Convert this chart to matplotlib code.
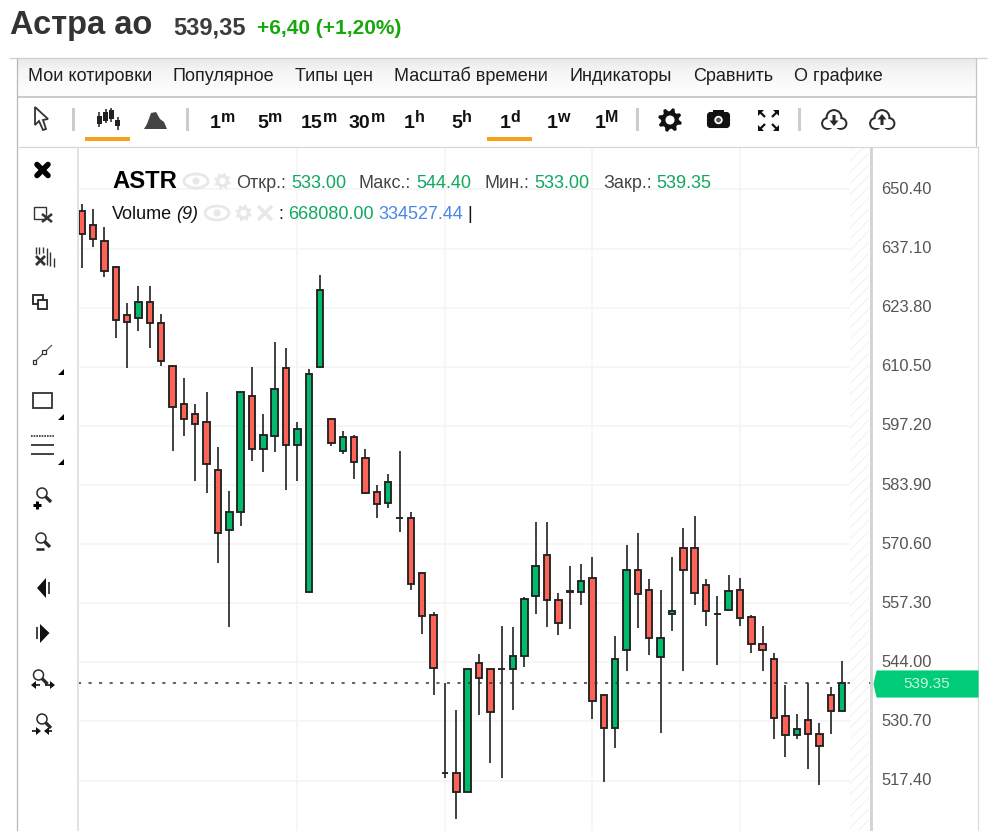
import numpy as np
import matplotlib
matplotlib.use('Agg')
import matplotlib.pyplot as plt
from matplotlib.patches import Rectangle, Polygon, Circle, Ellipse, FancyBboxPatch
from matplotlib.transforms import ScaledTranslation

plt.rcParams['font.family'] = ['Liberation Sans', 'DejaVu Sans']
plt.rcParams['hatch.linewidth'] = 0.9

# daily candles
opens = [645.59, 642.31, 638.84, 632.86, 622.06, 621.38, 625.05, 620.32, 610.58, 602.09,
         599.78, 598.04, 587.24, 573.74, 577.79, 603.83, 591.97, 594.96, 610.20, 592.93,
         559.85, 610.49, 598.72, 591.58, 594.67, 589.94, 582.22, 579.81, 576.44, 576.44,
         563.99, 554.54, 519.12, 519.12, 514.71, 543.74, 542.39, 542.46, 542.39, 545.38,
         558.89, 568.05, 557.92, 559.75, 559.85, 563.01, 536.67, 529.18, 546.73, 564.67,
         560.30, 545.09, 554.84, 569.76, 569.76, 561.29, 554.90, 555.81, 560.30, 554.16,
         548.08, 544.71, 531.95, 527.54, 530.91, 527.90, 536.61, 533.00]
closes = [640.28, 639.16, 632.09, 621.00, 620.61, 625.05, 620.32, 611.84, 601.35, 598.72,
          597.66, 588.59, 573.13, 577.79, 604.79, 591.97, 595.05, 605.47, 592.93, 596.40,
          608.85, 627.75, 593.25, 594.67, 588.97, 582.13, 579.52, 584.61, 576.44, 561.59,
          554.45, 542.68, 519.12, 514.71, 542.46, 540.36, 532.85, 542.46, 545.45, 558.28,
          565.70, 557.92, 552.81, 559.95, 562.26, 535.26, 529.18, 544.77, 564.67, 559.27,
          549.43, 549.50, 555.58, 564.67, 559.56, 555.58, 554.90, 559.94, 553.87, 548.08,
          546.73, 531.50, 527.54, 528.89, 527.90, 525.13, 532.94, 539.35]
highs = [647.10, 645.98, 641.93, 633.15, 624.82, 628.72, 628.72, 622.35, 610.65, 607.88,
         602.09, 604.86, 592.35, 582.52, 604.79, 610.49, 599.78, 615.98, 614.63, 598.04,
         609.90, 631.06, 598.72, 596.02, 595.12, 591.97, 583.87, 586.27, 591.58, 577.72,
         563.99, 555.29, 539.38, 533.23, 542.46, 545.77, 542.46, 552.13, 551.84, 558.73,
         575.47, 575.47, 559.63, 565.70, 566.02, 567.73, 536.67, 549.88, 570.43, 573.13,
         562.64, 560.30, 567.73, 574.12, 576.89, 562.64, 558.89, 563.68, 563.01, 554.61,
         552.13, 545.99, 538.86, 532.33, 539.31, 530.24, 538.34, 544.40]
lows = [632.70, 637.43, 630.67, 616.95, 610.20, 618.52, 614.76, 610.71, 591.58, 594.89,
        584.83, 582.13, 566.25, 551.84, 574.64, 589.20, 586.79, 591.22, 582.74, 584.77,
        559.85, 610.20, 592.64, 590.84, 585.15, 581.77, 576.37, 578.76, 573.29, 560.24,
        550.33, 536.61, 518.00, 508.64, 514.71, 532.11, 521.37, 518.00, 533.23, 542.98,
        554.84, 551.98, 550.11, 551.39, 556.86, 531.14, 517.03, 524.75, 541.94, 551.68,
        545.61, 528.12, 551.01, 541.94, 556.79, 552.07, 543.36, 555.81, 552.07, 545.99,
        541.94, 526.77, 522.72, 526.77, 520.02, 516.29, 527.76, 533.00]

price_ticks = [650.40, 637.10, 623.80, 610.50, 597.20, 583.90, 570.60, 557.30, 544.00, 530.70, 517.40]
time_ticks = [19, 32, 45, 58]
last_price = closes[-1]

W, H = 998, 831
RED = '#fd6357'
GREEN = '#00bb6c'
INK = '#2b2b2b'

fig = plt.figure(figsize=(W / 100, H / 100), dpi=100)

# main price chart
ax = fig.add_axes([78 / W, 0, (871 - 78) / W, (831 - 147) / H])
ax.set_xlim(-0.33, 69.54)
ax.set_ylim(506.04, 659.96)
ax.set_xticks(time_ticks)
ax.set_yticks(price_ticks)
ax.set_yticklabels(['%.2f' % p for p in price_ticks], fontsize=11.9, color='#555555')
ax.yaxis.tick_right()
ax.tick_params(axis='y', length=0, pad=7.4)
ax.tick_params(axis='x', length=0, labelbottom=False)
ax.grid(True, color='#f5f5f5', lw=1.2)
ax.set_axisbelow(True)
for s in ax.spines.values():
    s.set_visible(False)
# the labels sit a little above their grid lines
for t in ax.yaxis.get_major_ticks():
    t.label2.set_transform(t.label2.get_transform() + ScaledTranslation(0, 0.015, fig.dpi_scale_trans))

xs = np.arange(len(opens))
o, c = np.array(opens), np.array(closes)
ax.vlines(xs, lows, highs, color='#333333', lw=1.3, zorder=3)
ax.bar(xs, np.abs(c - o), bottom=np.minimum(o, c), width=0.57,
       color=[GREEN if b >= a else RED for a, b in zip(opens, closes)],
       edgecolor='#222222', lw=1.35, zorder=4)
ax.axhline(last_price, color='#333333', lw=1.1, dashes=(2.0, 4.9), zorder=5)

# page furniture, drawn in pixel coordinates
ui = fig.add_axes([0, 0, 1, 1], facecolor='none')
ui.set_xlim(0, W)
ui.set_ylim(H, 0)
ui.axis('off')


def line(xv, yv, color=INK, lw=1.0, **kw):
    ui.plot(xv, yv, color=color, lw=lw, solid_capstyle=kw.pop('cap', 'butt'), **kw)


def label(x, y, s, size=13, color='#444444', **kw):
    ui.text(x, y, s, fontsize=size, color=color, va='baseline', **kw)


def gear(cx, cy, r, color):
    ang = np.linspace(0, 2 * np.pi, 32, endpoint=False) + np.pi / 16
    rad = np.tile([r, r, r * 0.74, r * 0.74], 8)
    ui.add_patch(Polygon(np.c_[cx + rad * np.cos(ang), cy + rad * np.sin(ang)], fc=color, ec='none', zorder=2))
    ui.add_patch(Circle((cx, cy), r * 0.38, fc='white', ec='none', zorder=2.1))


def eye(cx, cy, color='#e8e8e8'):
    ui.add_patch(Ellipse((cx, cy), 24, 14, fc='none', ec=color, lw=2, zorder=2))
    ui.add_patch(Circle((cx, cy), 3.6, fc=color, ec='none', zorder=2))


def cloud(cx, cy, down):
    for dx, dy, r in [(-6.5, 3.5, 5.5), (0, -2.5, 7.5), (7, 3.5, 5.5)]:
        ui.add_patch(Circle((cx + dx, cy + dy), r + 0.9, fc=INK, ec='none', zorder=2))
    for dx, dy, r in [(-6.5, 3.5, 4.4), (0, -2.5, 6.4), (7, 3.5, 4.4)]:
        ui.add_patch(Circle((cx + dx, cy + dy), r, fc='white', ec='none', zorder=2.1))
    ui.add_patch(Rectangle((cx - 6.5, cy + 1), 14, 6.5, fc='white', ec='none', zorder=2.1))
    s = 1 if down else -1
    ui.add_patch(Polygon([(cx - 1.5, cy - 5 * s), (cx + 1.5, cy - 5 * s), (cx + 1.5, cy + 0.5 * s),
                          (cx + 4.5, cy + 0.5 * s), (cx, cy + 6 * s), (cx - 4.5, cy + 0.5 * s),
                          (cx - 1.5, cy + 0.5 * s)], fc=INK, ec='none', zorder=2.2))


def lens(cx, cy, r=5.0):
    ui.add_patch(Circle((cx, cy), r, fc='white', ec=INK, lw=1.1, zorder=2))
    line([cx + r * 0.7, cx + r * 1.8], [cy + r * 0.7, cy + r * 1.8], lw=2.4)


# title row
label(10, 34, 'Астра ао', 23.5, '#333333', fontweight='bold')
label(173.5, 34, '539,35', 17, '#3c3c3c', fontweight='bold')
label(257.5, 34, '+6,40 (+1,20%)', 15, '#17a80b', fontweight='bold')

# menu bar
ui.imshow(np.array([[0.92], [0.955], [0.965], [0.98], [0.985]]), cmap='gray', vmin=0, vmax=1,
          extent=(17, 976, 97, 58), aspect='auto', interpolation='bilinear', zorder=0.5)
ui.set_xlim(0, W)
ui.set_ylim(H, 0)
line([9, 987], [57.5, 57.5], '#cfcfcf', 0.9)
line([17, 976], [97, 97], '#bdbdbd', 1.1)
line([17.5, 17.5], [58, 831], '#b8b8b8', 0.9)
line([976, 976], [58, 146], '#c4c4c4', 0.9)
line([18, 978], [146.5, 146.5], '#d6d6d6', 0.9)
line([978, 978], [146, 831], '#dcdcdc', 0.9)
line([78, 78], [147, 831], '#e2e2e2', 1.4)
line([871, 871], [147, 831], '#d2d2d2', 2.0)
ui.add_patch(Rectangle((850, 147), 19.5, 684, fc='white', ec='#f3f3f3', hatch='///', lw=0, zorder=0.6))

menu_x = [28, 173, 295, 394, 570, 693, 794]
menu_items = ['Мои котировки', 'Популярное', 'Типы цен', 'Масштаб времени', 'Индикаторы', 'Сравнить', 'О графике']
for x, s in zip(menu_x, menu_items):
    label(x, 81, s, 12.95, '#1e1e1e')

# toolbar
for x in [74, 188, 638, 800]:
    ui.add_patch(Rectangle((x - 1.5, 108), 3, 23, fc='#cccccc', ec='none'))
ui.add_patch(Rectangle((85, 137), 45, 4, fc='#f5a11c', ec='none'))
ui.add_patch(Rectangle((487, 137), 45, 4, fc='#f5a11c', ec='none'))
ui.add_patch(Polygon([(35, 107), (35, 125), (39, 121), (43, 130), (46, 129), (43, 120), (48, 119)],
                     fc='white', ec='#333333', lw=1.3, zorder=2))
for x, t, b, lo, hi in [(99.5, 116, 123.5, 112, 127), (106, 111.7, 120.7, 109, 123),
                        (111.5, 110, 119, 108, 122), (118, 120, 125.7, 117, 130)]:
    line([x, x], [lo, hi], '#222222', 1.1)
    ui.add_patch(Rectangle((x - 2.5, t), 5, b - t, fc='#222222', ec='none', zorder=2))
ui.add_patch(Polygon([(144, 129), (147, 124), (151, 113), (156, 112), (160, 119), (164, 122), (167, 129)],
                     fc='#444444', ec='none'))
frames = [(210, '1', 'm'), (257.5, '5', 'm'), (301, '15', 'm'), (349, '30', 'm'), (404, '1', 'h'),
          (451.5, '5', 'h'), (500, '1', 'd'), (546.5, '1', 'w'), (594.5, '1', 'M')]
for x, num, unit in frames:
    label(x, 128, num, 14, '#111111', fontweight='bold')
    label(x + 10.8 * len(num), 122, unit, 11.5, '#111111', fontweight='bold')

gear(670, 120, 12, '#111111')
ui.add_patch(FancyBboxPatch((708, 113), 21, 14, boxstyle='round,pad=0,rounding_size=2.5', fc='#111111', ec='#111111', lw=1.5))
ui.add_patch(Rectangle((713, 110), 11, 4, fc='#111111', ec='none'))
ui.add_patch(Circle((718.5, 120), 4.2, fc='white', ec='none', zorder=2))
ui.add_patch(Circle((718.5, 120), 2.4, fc='#555555', ec='none', zorder=2.1))
for x, y, sx, sy in [(758, 110, 1, 1), (779, 110, -1, 1), (758, 131, 1, -1), (779, 131, -1, -1)]:
    ui.add_patch(Polygon([(x, y), (x + 6 * sx, y), (x, y + 6 * sy)], fc='#111111', ec='none'))
    line([x + 2 * sx, x + 7 * sx], [y + 2 * sy, y + 7 * sy], '#111111', 1.6)
cloud(834, 120, True)
cloud(882, 120, False)

# chart legend
label(112, 188, 'ASTR', 17.2, 'black', fontweight='bold')
eye(196, 181)
gear(222.5, 181, 8.5, '#e8e8e8')
legend_x = [236, 291, 359, 416, 485, 534.5, 603, 656]
legend_txt = ['Откр.:', '533.00', 'Макс.:', '544.40', 'Мин.:', '533.00', 'Закр.:', '539.35']
for i, (x, s) in enumerate(zip(legend_x, legend_txt)):
    label(x, 188, s, 13, '#0fa860' if i % 2 else '#444444')
label(112, 219, 'Volume', 13, '#111111')
label(176.5, 219, '(9)', 13, '#111111', style='italic')
eye(217, 213)
gear(243.5, 213, 8.5, '#e8e8e8')
line([258, 272], [206, 220], '#e8e8e8', 2.6)
line([258, 272], [220, 206], '#e8e8e8', 2.6)
label(278, 219, ':', 13, '#111111')
label(288, 219, '668080.00', 13, '#0fa860')
label(378, 219, '334527.44', 13, '#4a86e8')
label(467, 219, '|', 13, '#111111')

# current price tag
ui.add_patch(Polygon([(874, 684), (877, 671), (978, 671), (978, 697), (877, 697)], fc='#00cc77', ec='#00cc77', lw=0.8, zorder=3))
ui.text(927, 683.5, '539.35', fontsize=11, color='#c9f5dd', ha='center', va='center', zorder=4)

# drawing tools column
line([37, 48], [164.5, 175.5], 'black', 4.0, cap='round')
line([37, 48], [175.5, 164.5], 'black', 4.0, cap='round')

ui.add_patch(Rectangle((34.5, 207), 12, 11.5, fc='white', ec='#333333', lw=1.0))
line([42, 52], [214, 222], '#333333', 1.8)
line([42, 52], [222, 214], '#333333', 1.8)

for x, t, b in [(36, 247, 254), (39, 247, 254), (43, 247, 253), (47, 248, 265), (50, 252, 266), (54, 258, 267)]:
    line([x, x], [t, b], '#333333', 1.0)
line([36, 45], [256, 265], '#333333', 2.0)
line([36, 45], [265, 256], '#333333', 2.0)

ui.add_patch(Rectangle((33, 295), 10, 9, fc='white', ec='#222222', lw=1.3, zorder=2))
ui.add_patch(Rectangle((38, 300), 9, 9, fc='white', ec='#222222', lw=1.3, zorder=2.1))

line([34.5, 52], [362, 345], '#555555', 0.9)
for x, y in [(34.5, 362), (44, 352)]:
    ui.add_patch(Rectangle((x - 1.7, y - 1.7), 3.4, 3.4, fc='white', ec='#333333', lw=0.9, zorder=3))
for y in [369, 414, 459]:
    ui.add_patch(Polygon([(64, y), (64, y + 6), (58, y + 6)], fc='black', ec='none'))

ui.add_patch(Rectangle((33, 393), 19, 15, fc='white', ec='#333333', lw=1.3))
line([31, 54], [436, 436], '#333333', 1.2, linestyle=(0, (1, 0.6)))
line([31, 54], [444.7, 444.7], '#333333', 1.3)
line([31, 54], [453.7, 453.7], '#333333', 1.3)

lens(42, 493)
line([33, 41], [505, 505], 'black', 2.2)
line([37, 37], [501, 509], 'black', 2.2)
lens(41, 538)
line([36, 44], [549, 549], '#222222', 1.8)

ui.add_patch(Polygon([(37, 588), (46, 578), (46, 598)], fc='#111111', ec='none'))
line([49, 49], [582, 594], '#222222', 1.2)
ui.add_patch(Polygon([(49.5, 633), (40, 624), (40, 643)], fc='#111111', ec='none'))
line([37, 37], [627, 639], '#222222', 1.2)

lens(38.5, 675)
ui.add_patch(Polygon([(31, 685), (36, 681), (36, 689)], fc='#111111', ec='none'))
line([35, 40], [685, 685], '#111111', 1.2)
ui.add_patch(Polygon([(55, 685), (50, 681), (50, 689)], fc='#111111', ec='none'))
line([45, 51], [685, 685], '#111111', 1.2)

lens(42, 719)
ui.add_patch(Polygon([(41, 731), (36, 727), (36, 735)], fc='#111111', ec='none'))
line([32, 37], [731, 731], '#111111', 1.2)
ui.add_patch(Polygon([(44, 731), (49, 727), (49, 735)], fc='#111111', ec='none'))
line([48, 52], [731, 731], '#111111', 1.2)

fig.savefig('out.png', dpi=100)
